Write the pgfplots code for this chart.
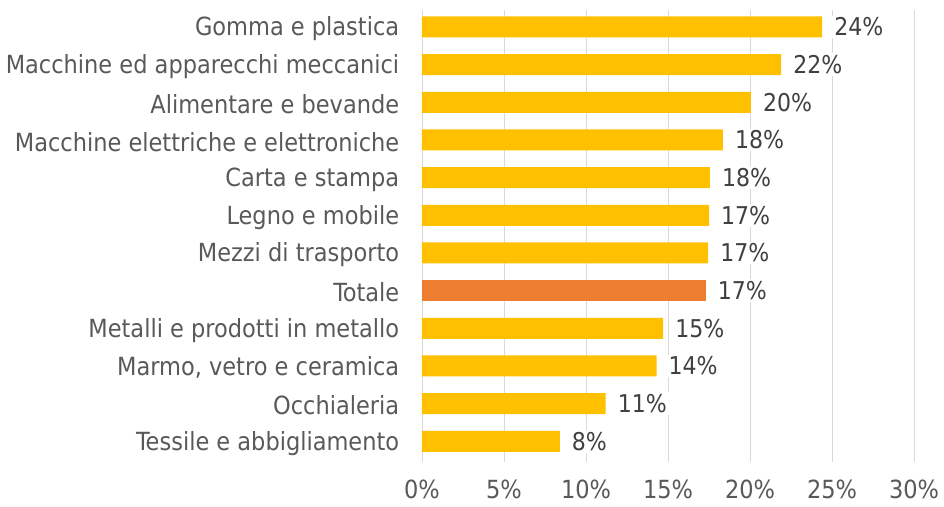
\documentclass[border=0pt]{standalone}
\usepackage{fontspec}
\setmainfont{DejaVu Sans Condensed}
\usepackage{pgfplots}
\pgfplotsset{compat=1.18}
\definecolor{gold}{HTML}{FFC000}
\definecolor{orng}{HTML}{ED7D31}
\definecolor{gridc}{HTML}{D9D9D9}
\definecolor{tickc}{HTML}{595959}
\definecolor{labc}{HTML}{404040}
\begin{document}
\begin{tikzpicture}
\useasboundingbox (-422pt,-44pt) rectangle (522pt,462pt);
\begin{axis}[
  scale only axis,
  width=492pt, height=452pt,
  xmin=0, xmax=30,
  ymin=-0.55, ymax=11.45,
  axis line style={draw=none},
  xmajorgrids, major grid style={gridc, line width=0.9pt},
  xtick={0,5,...,30},
  xticklabel={\pgfmathprintnumber{\tick}\%},
  ytick={0,...,11},
  yticklabels={Tessile e abbigliamento, Occhialeria, {Marmo, vetro e ceramica}, Metalli e prodotti in metallo, Totale, Mezzi di trasporto, Legno e mobile, Carta e stampa, Macchine elettriche e elettroniche, Alimentare e bevande, Macchine ed apparecchi meccanici, Gomma e plastica},
  tick style={draw=none},
  /pgf/number format/assume math mode=true,
  ticklabel style={font=\fontsize{25}{30}\selectfont, text=tickc},
  xticklabel style={yshift=-14pt},
  yticklabel style={xshift=-15pt, yshift=-2pt},
  xbar, bar width=21pt, bar shift=0pt,
  nodes near coords,
  point meta=explicit symbolic,
  every node near coord/.style={font=\fontsize{24.5}{29}\selectfont, text=labc, fill=white, anchor=west, xshift=10pt, inner sep=2pt},
  clip=false,
]
\draw[gridc, line width=0.9pt] (axis cs:0,-0.55) -- (axis cs:0,11.45);
\addplot[fill=gold, draw=none] coordinates {
(8.4,0) [8\%]
(11.2,1) [11\%]
(14.3,2) [14\%]
(14.7,3) [15\%]
(17.45,5) [17\%]
(17.5,6) [17\%]
(17.56,7) [18\%]
(18.35,8) [18\%]
(20.06,9) [20\%]
(21.9,10) [22\%]
(24.4,11) [24\%]
};
\addplot[fill=orng, draw=none] coordinates {
(17.3,4) [17\%]
};
\end{axis}
\end{tikzpicture}
\end{document}
